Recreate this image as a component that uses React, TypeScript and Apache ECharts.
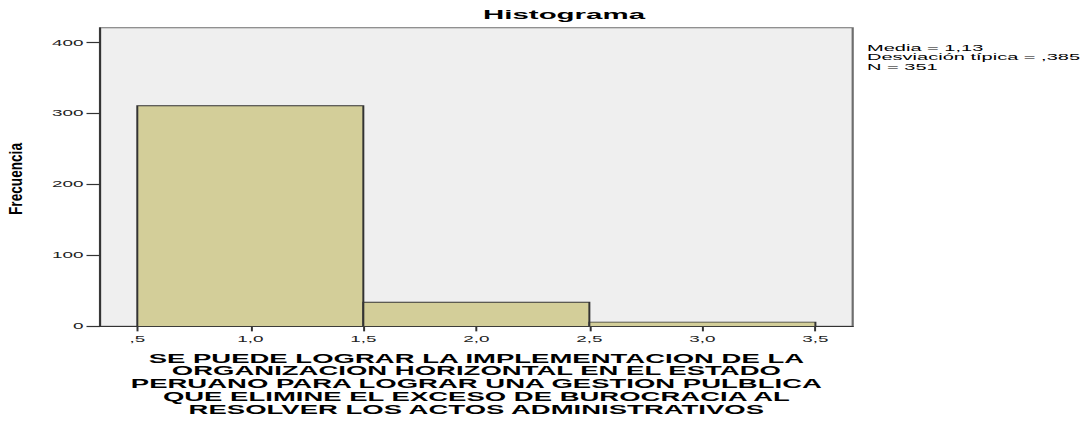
import React, { useEffect, useRef } from "react";
import * as echarts from "echarts";

// ---- data ----
const binStart = [0.5, 1.5, 2.5];
const binEnd = [1.5, 2.5, 3.5];
const freq = [311, 34, 6];
const xTicks = [0.5, 1.0, 1.5, 2.0, 2.5, 3.0, 3.5];
const yTicks = [0, 100, 200, 300, 400];
const titleText = "Histograma";
const yName = "Frecuencia";
const xNameLines = [
  "SE PUEDE LOGRAR LA IMPLEMENTACION DE LA",
  "ORGANIZACION HORIZONTAL EN EL ESTADO",
  "PERUANO PARA LOGRAR UNA GESTION PULBLICA",
  "QUE ELIMINE EL EXCESO DE BUROCRACIA AL",
  "RESOLVER LOS ACTOS ADMINISTRATIVOS",
];
const statsLines = ["Media = 1,13", "Desviación típica = ,385", "N = 351"];

// horizontal stretch of the original rendering
const S = 2.2;
const W = 1083 / S;
const H = 421;
const px = (v: number) => v / S;

const fmtX = (v: number) => {
  const s = v.toFixed(1).replace(".", ",");
  return s.startsWith("0") ? s.slice(1) : s;
};

export default function App() {
  const ref = useRef<HTMLDivElement>(null);
  useEffect(() => {
    if (!ref.current) return;
    const chart = echarts.init(ref.current, null, { renderer: "svg" });
    const data = binStart.map((b, i) => [b, binEnd[i], freq[i]]);
    const font = "'Liberation Sans', Arial, sans-serif";
    chart.setOption({
      animation: false,
      backgroundColor: "#ffffff",
      title: {
        text: titleText,
        left: px(564),
        textAlign: "center",
        top: 8,
        padding: 0,
        textStyle: {
          fontFamily: font,
          fontWeight: "bold",
          fontSize: 13.4,
          color: "#000",
        },
      },
      grid: {
        left: px(100),
        right: W - px(853.3),
        top: 27.7,
        bottom: H - 330,
        show: true,
        backgroundColor: "#efefef",
        borderColor: "#6e6e6e",
        borderWidth: 1,
      },
      xAxis: {
        type: "value",
        min: 0.335,
        max: 3.665,
        splitLine: { show: false },
        axisLine: { show: true, lineStyle: { color: "#333", width: 1.2 } },
        axisTick: {
          show: true,
          length: 5,
          lineStyle: { color: "#333", width: 0.9 },
          customValues: xTicks,
        },
        axisLabel: {
          customValues: xTicks,
          formatter: (v: number) => fmtX(v),
          fontFamily: font,
          fontSize: 8.6,
          color: "#222",
          margin: 8,
        },
        name: xNameLines.join("\n"),
        nameLocation: "middle",
        nameGap: 26,
        nameTextStyle: {
          fontFamily: font,
          fontWeight: "bold",
          fontSize: 12.5,
          lineHeight: 12.7,
          color: "#000",
        },
      },
      yAxis: {
        type: "value",
        min: 0,
        max: 421,
        splitLine: { show: false },
        axisLine: { show: true, lineStyle: { color: "#333", width: 0.9 } },
        axisTick: {
          show: true,
          length: px(13.5),
          lineStyle: { color: "#333", width: 1.2 },
          customValues: yTicks,
        },
        axisLabel: {
          customValues: yTicks,
          fontFamily: font,
          fontSize: 8.6,
          color: "#222",
          margin: px(16.5),
        },
      },
      graphic: [
        {
          type: "text",
          x: px(15),
          y: 179,
          rotation: Math.PI / 2,
          scaleX: 0.94,
          scaleY: 1.3 / S,
          style: {
            text: yName,
            font: `bold 14.5px ${font}`,
            fill: "#000",
            textAlign: "center",
            textVerticalAlign: "middle",
          },
        },
        {
          type: "text",
          x: px(867),
          y: 43,
          style: {
            text: statsLines.join("\n"),
            font: `9.1px ${font}`,
            lineHeight: 9.5,
            fill: "#000",
            textAlign: "left",
            textVerticalAlign: "top",
          },
        },
      ],
      series: [
        {
          type: "custom",
          data,
          encode: { x: [0, 1], y: 2 },
          renderItem: (params: any, api: any) => {
            const x0 = api.value(0);
            const x1 = api.value(1);
            const y = api.value(2);
            const p0 = api.coord([x0, y]);
            const p1 = api.coord([x1, 0]);
            return {
              type: "rect",
              shape: {
                x: p0[0],
                y: p0[1],
                width: p1[0] - p0[0],
                height: p1[1] - p0[1],
              },
              style: { fill: "#d3ce99", stroke: "#333", lineWidth: 0.9 },
            };
          },
        },
      ],
    });
    return () => chart.dispose();
  }, []);
  return (
    <div
      ref={ref}
      style={{
        position: "fixed",
        left: 0,
        top: 0,
        width: `${W}px`,
        height: `${H}px`,
        transform: `scaleX(${S})`,
        transformOrigin: "0 0",
      }}
    />
  );
}
